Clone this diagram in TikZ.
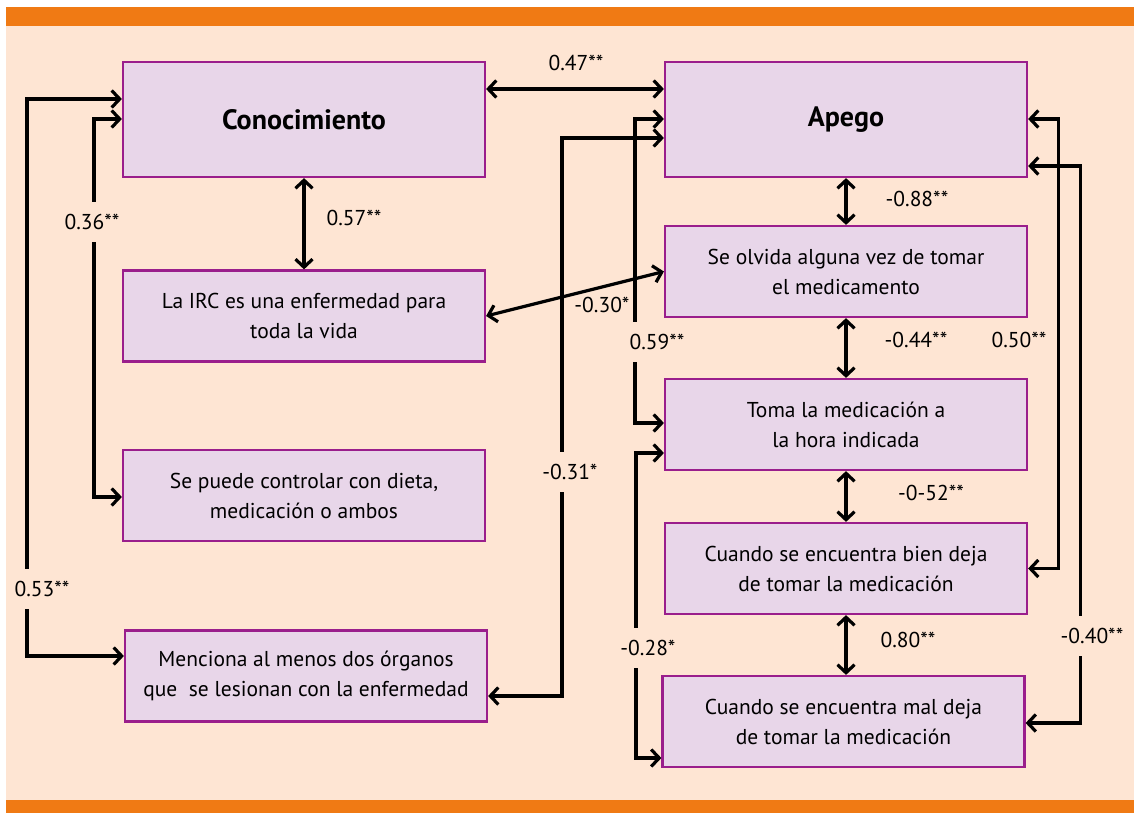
\documentclass[tikz,border=0pt]{standalone}
\usepackage{fontspec}
\setmainfont{PT Sans}
\usetikzlibrary{arrows.meta}
\definecolor{bandorange}{HTML}{F07A14}
\definecolor{paper}{HTML}{FEE5D3}
\definecolor{boxfill}{HTML}{E8D6E9}
\definecolor{boxline}{HTML}{9A1E8C}

\begin{document}
\begin{tikzpicture}[x=1pt,y=-1pt,
  box/.style={draw=boxline,line width=2.2pt,fill=boxfill,minimum width=362pt,
    minimum height=91pt,align=center,inner sep=0pt,
    font=\fontsize{21.5}{30}\selectfont},
  titlebox/.style={box,minimum height=115pt,font=\fontsize{28}{30}\selectfont\bfseries},
  link/.style={line width=3.2pt,
    {Straight Barb[length=8pt,width=17pt]}-{Straight Barb[length=8pt,width=17pt]}},
  coef/.style={font=\fontsize{21.5}{22}\selectfont,inner sep=1pt},
  gapcoef/.style={coef,fill=paper,minimum height=40pt}]
  \useasboundingbox (0,0) rectangle (1134,813);
  \fill[white] (0,0) rectangle (1134,813);
  \fill[paper] (6,7) rectangle (1134,813);
  \fill[bandorange] (6,7) rectangle (1134,26);
  \fill[bandorange] (6,800) rectangle (1134,813);

  % left column
  \node[titlebox] (con) at (304,119.5) {Conocimiento};
  \node[box] (irc) at (304,316) {La IRC es una enfermedad para\\toda la vida};
  \node[box] (dieta) at (304,495.5) {Se puede controlar con dieta,\\medicación o ambos};
  \node[box] (organos) at (306,676) {Menciona al menos dos órganos\\que~ se lesionan con la enfermedad};

  % right column
  \node[titlebox] (apego) at (846,119.5) {Apego};
  \node[box] (olvida) at (846,271.5) {Se olvida alguna vez de tomar\\el medicamento};
  \node[box] (hora) at (846,424.5) {Toma la medicación a\\la hora indicada};
  \node[box] (bien) at (846,568.5) {Cuando se encuentra bien deja\\de tomar la medicación};
  \node[box] (mal) at (843.5,721.5) {Cuando se encuentra mal deja\\de tomar la medicación};

  \draw[link] ([yshift=30.5pt]con.east) -- ([yshift=30.5pt]apego.west);
  \draw[link] (con.south) -- (irc.north);
  \draw[link] (irc.east) -- (olvida.west);
  \draw[link] (apego.south) -- (olvida.north);
  \draw[link] (olvida.south) -- (hora.north);
  \draw[link] (hora.south) -- (bien.north);
  \draw[link] (bien.south) -- (bien.south |- mal.north);

  \draw[link] ([yshift=20.5pt]con.west) -- ++(-95,0) |- ([yshift=20pt]organos.west);
  \draw[link] ([yshift=0.5pt]con.west) -- ++(-28,0) |- ([yshift=-1.5pt]dieta.west);
  \draw[link] ([yshift=0.5pt]apego.west) -- ++(-29,0) |- ([yshift=1.5pt]hora.west);
  \draw[link] ([yshift=-18.5pt]apego.west) -- ++(-102,0) |- ([yshift=-20pt]organos.east);
  \draw[link] ([yshift=-28.5pt]hora.west) -- ++(-28,0) |- ([yshift=-36.5pt]mal.west);
  \draw[link] ([yshift=0.5pt]apego.east) -- ++(30,0) |- (bien.east);
  \draw[link] ([yshift=-46.5pt]apego.east) -- ++(52,0) |- ([yshift=-1.5pt]mal.east);

  % coefficients
  \node[coef] (c47) at (576,63) {0.47**};
  \node[coef] (c57) at (354,218) {0.57**};
  \node[coef] (c30) at (602,305) {-0.30*};
  \node[coef] (c88) at (917,199) {-0.88**};
  \node[coef] (c44) at (916,340) {-0.44**};
  \node[coef] (c52) at (931,493) {-0-52**};
  \node[coef] (c80) at (908,640) {0.80**};
  \node[coef] (c50) at (1019,340) {0.50**};
  \node[gapcoef] (c36) at (92,222) {0.36**};
  \node[gapcoef] (c53) at (42,589) {0.53**};
  \node[gapcoef] (c59) at (657,342) {0.59**};
  \node[gapcoef] (c31) at (570,472) {-0.31*};
  \node[gapcoef] (c28) at (648,648) {-0.28*};
  \node[gapcoef] (c40) at (1092,636) {-0.40**};
\end{tikzpicture}
\end{document}
